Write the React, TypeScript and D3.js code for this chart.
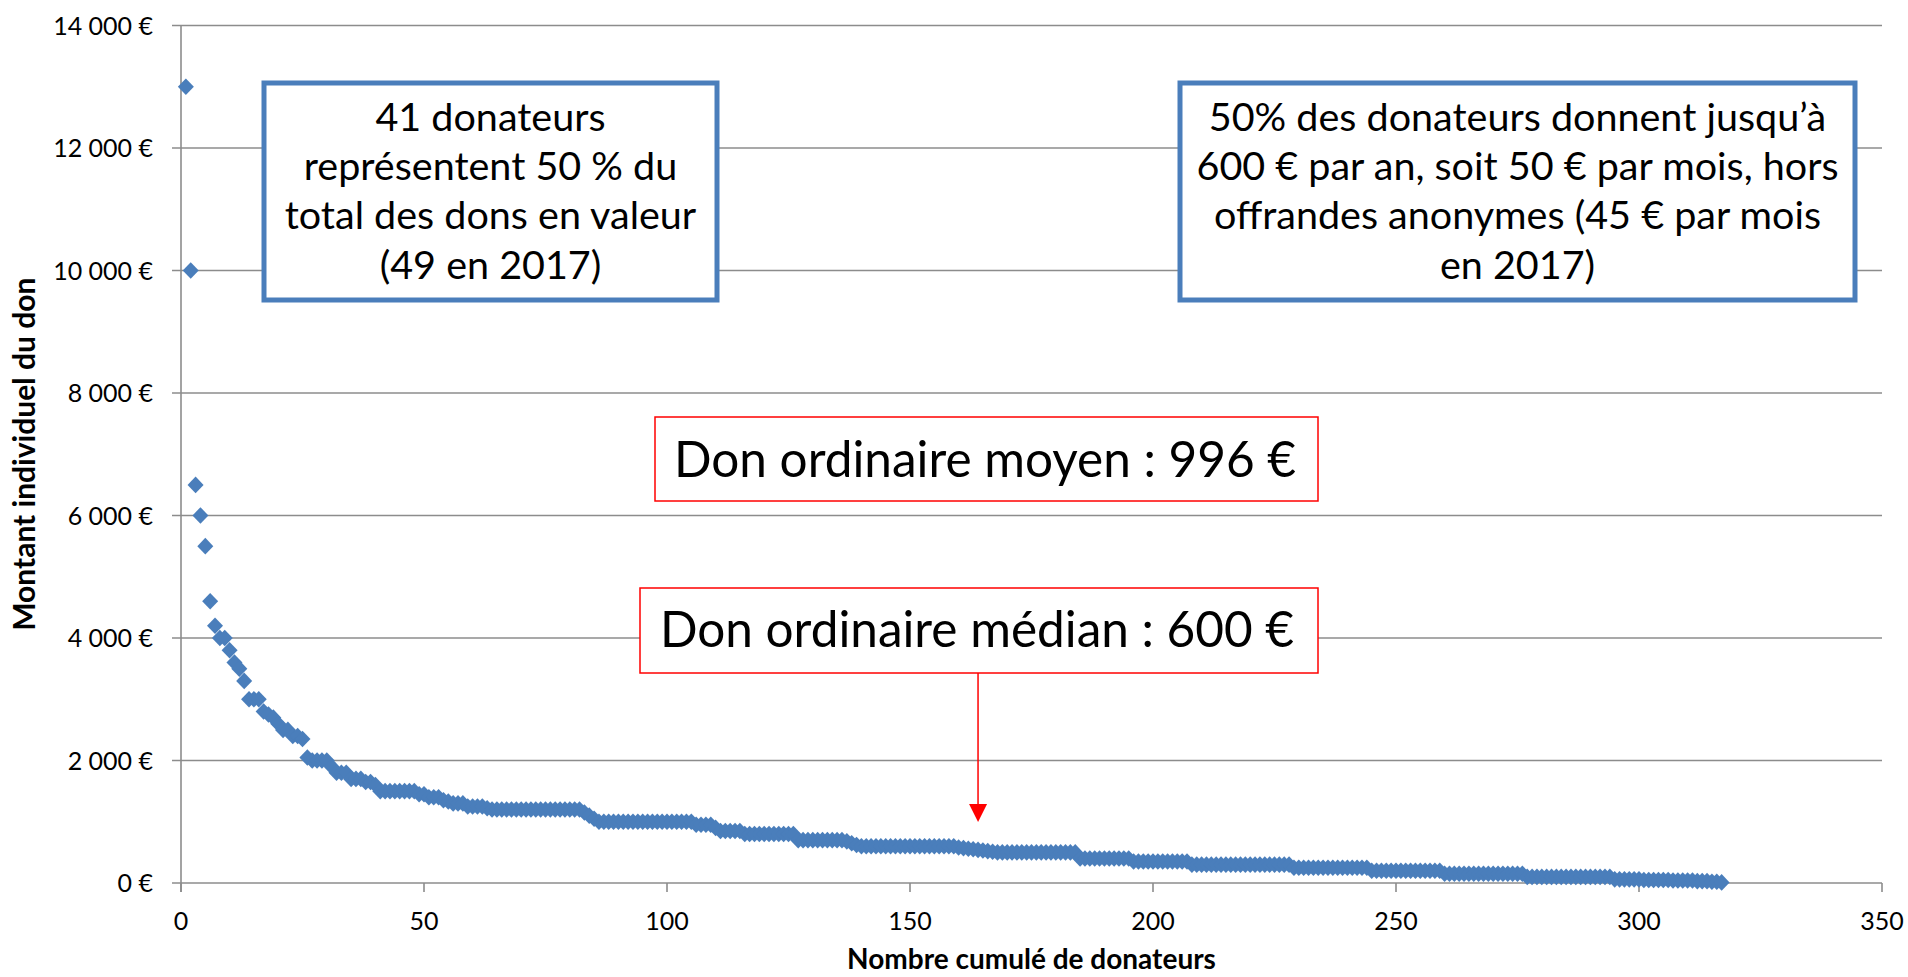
import React from "react";
import * as d3 from "d3";

// Individual donation amounts (sorted descending), donor rank = index + 1
const donations: number[] = [
  13000, 10000, 6500, 6000, 5500, 4600, 4200, 4000, 4000, 3800,
  3600, 3500, 3300, 3000, 3000, 3000, 2800, 2750, 2700, 2600,
  2500, 2500, 2400, 2400, 2350, 2050, 2000, 2000, 2000, 2000,
  1900, 1800, 1800, 1800, 1700, 1700, 1700, 1650, 1650, 1600,
  1500, 1500, 1500, 1500, 1500, 1500, 1500, 1500, 1450, 1450,
  1400, 1400, 1400, 1350, 1330, 1300, 1300, 1300, 1250, 1250,
  1250, 1250, 1220, 1200, 1200, 1200, 1200, 1200, 1200, 1200,
  1200, 1200, 1200, 1200, 1200, 1200, 1200, 1200, 1200, 1200,
  1200, 1200, 1150, 1100, 1050, 1000, 1000, 1000, 1000, 1000,
  1000, 1000, 1000, 1000, 1000, 1000, 1000, 1000, 1000, 1000,
  1000, 1000, 1000, 1000, 1000, 950, 950, 950, 950, 900,
  850, 850, 850, 850, 850, 800, 800, 800, 800, 800,
  800, 800, 800, 800, 800, 800, 700, 700, 700, 700,
  700, 700, 700, 700, 700, 700, 680, 650, 620, 600,
  600, 600, 600, 600, 600, 600, 600, 600, 600, 600,
  600, 600, 600, 600, 600, 600, 600, 600, 600, 580,
  570, 560, 550, 540, 530, 520, 510, 500, 500, 500,
  500, 500, 500, 500, 500, 500, 500, 500, 500, 500,
  500, 500, 500, 500, 400, 400, 400, 400, 400, 400,
  400, 400, 400, 400, 400, 350, 350, 350, 350, 350,
  350, 350, 350, 350, 350, 350, 350, 300, 300, 300,
  300, 300, 300, 300, 300, 300, 300, 300, 300, 300,
  300, 300, 300, 300, 300, 300, 300, 300, 250, 250,
  250, 250, 250, 250, 250, 250, 250, 250, 250, 250,
  250, 250, 250, 250, 200, 200, 200, 200, 200, 200,
  200, 200, 200, 200, 200, 200, 200, 200, 200, 150,
  150, 150, 150, 150, 150, 150, 150, 150, 150, 150,
  150, 150, 150, 150, 150, 150, 100, 100, 100, 100,
  100, 100, 100, 100, 100, 100, 100, 100, 100, 100,
  100, 100, 100, 100, 60, 60, 60, 60, 60, 60,
  50, 50, 50, 50, 50, 50, 40, 40, 40, 40,
  40, 30, 30, 30, 20, 20, 10,
];

const yTicks: number[] = [0, 2000, 4000, 6000, 8000, 10000, 12000, 14000];
const xTicks: number[] = [0, 50, 100, 150, 200, 250, 300, 350];

const leftBoxLines: string[] = [
  "41 donateurs",
  "représentent 50 % du",
  "total des dons en valeur",
  "(49 en 2017)",
];
const rightBoxLines: string[] = [
  "50% des donateurs donnent jusqu’à",
  "600 € par an, soit 50 € par mois, hors",
  "offrandes anonymes (45 € par mois",
  "en 2017)",
];
const meanLabel = "Don ordinaire moyen : 996 €";
const medianLabel = "Don ordinaire médian : 600 €";
const medianRank = 164;
const xTitle = "Nombre cumulé de donateurs";
const yTitle = "Montant individuel du don";

const W = 1908;
const H = 977;
const FONT = "Lato, 'Open Sans', sans-serif";
const GRID = "#8c8c8c";
const BLUE = "#4a7ebb";

const fmtEuro = (v: number) => `${d3.format(",")(v).replace(/,/g, " ")} €`;

export default function App() {
  const x = d3.scaleLinear().domain([0, 350]).range([181, 1882]);
  const y = d3.scaleLinear().domain([0, 14000]).range([883, 25.5]);
  const diamond = "M0,-8.3L8,0L0,8.3L-8,0Z";

  const lineH = 49.2;
  return (
    <svg
      width={W}
      height={H}
      style={{ position: "absolute", left: 0, top: 0, background: "#fff" }}
      fontFamily={FONT}
    >
      {/* gridlines */}
      {yTicks.map((t) => (
        <line
          key={"g" + t}
          x1={172}
          x2={x(350)}
          y1={y(t)}
          y2={y(t)}
          stroke={GRID}
          strokeWidth={1.6}
        />
      ))}
      {/* y axis */}
      <line x1={x(0)} x2={x(0)} y1={y(14000)} y2={892} stroke={GRID} strokeWidth={1.6} />
      {xTicks.map((t) => (
        <line key={"xt" + t} x1={x(t)} x2={x(t)} y1={y(0)} y2={892} stroke={GRID} strokeWidth={1.6} />
      ))}
      {yTicks.map((t) => (
        <text key={"yl" + t} x={153} y={y(t) + 9} textAnchor="end" fontSize={25} fill="#000">
          {fmtEuro(t)}
        </text>
      ))}
      {xTicks.map((t) => (
        <text key={"xl" + t} x={x(t)} y={930} textAnchor="middle" fontSize={25} fill="#000">
          {t}
        </text>
      ))}
      <text x={(x(0) + x(350)) / 2} y={969} textAnchor="middle" fontSize={28} fontWeight="bold">
        {xTitle}
      </text>
      <text
        transform={`translate(35,${(y(0) + y(14000)) / 2}) rotate(-90)`}
        textAnchor="middle"
        fontSize={30}
        fontWeight="bold"
      >
        {yTitle}
      </text>

      {/* blue boxes */}
      <rect x={264} y={83} width={453} height={217} fill="#fff" stroke={BLUE} strokeWidth={5} />
      {leftBoxLines.map((l, i) => (
        <text key={"lb" + i} x={490.5} y={131 + i * lineH} textAnchor="middle" fontSize={39.5}>
          {l}
        </text>
      ))}
      <rect x={1180} y={83} width={675} height={217} fill="#fff" stroke={BLUE} strokeWidth={5} />
      {rightBoxLines.map((l, i) => (
        <text key={"rb" + i} x={1517.5} y={131 + i * lineH} textAnchor="middle" fontSize={39.5}>
          {l}
        </text>
      ))}

      {/* red boxes */}
      <rect x={655} y={417} width={663} height={84} fill="#fff" stroke="#ff0000" strokeWidth={1.5} />
      <text x={985} y={477} textAnchor="middle" fontSize={49.5}>
        {meanLabel}
      </text>
      <rect x={640} y={588} width={678} height={85} fill="#fff" stroke="#ff0000" strokeWidth={1.5} />
      <text x={977} y={647} textAnchor="middle" fontSize={49.5}>
        {medianLabel}
      </text>
      <line x1={x(medianRank)} x2={x(medianRank)} y1={673} y2={808} stroke="#ff0000" strokeWidth={1.5} />
      <path
        d={`M${x(medianRank) - 9},804L${x(medianRank) + 9},804L${x(medianRank)},822Z`}
        fill="#ff0000"
      />

      {/* points */}
      {donations.map((v, i) => (
        <path key={"p" + i} d={diamond} transform={`translate(${x(i + 1)},${y(v)})`} fill={BLUE} />
      ))}
    </svg>
  );
}
